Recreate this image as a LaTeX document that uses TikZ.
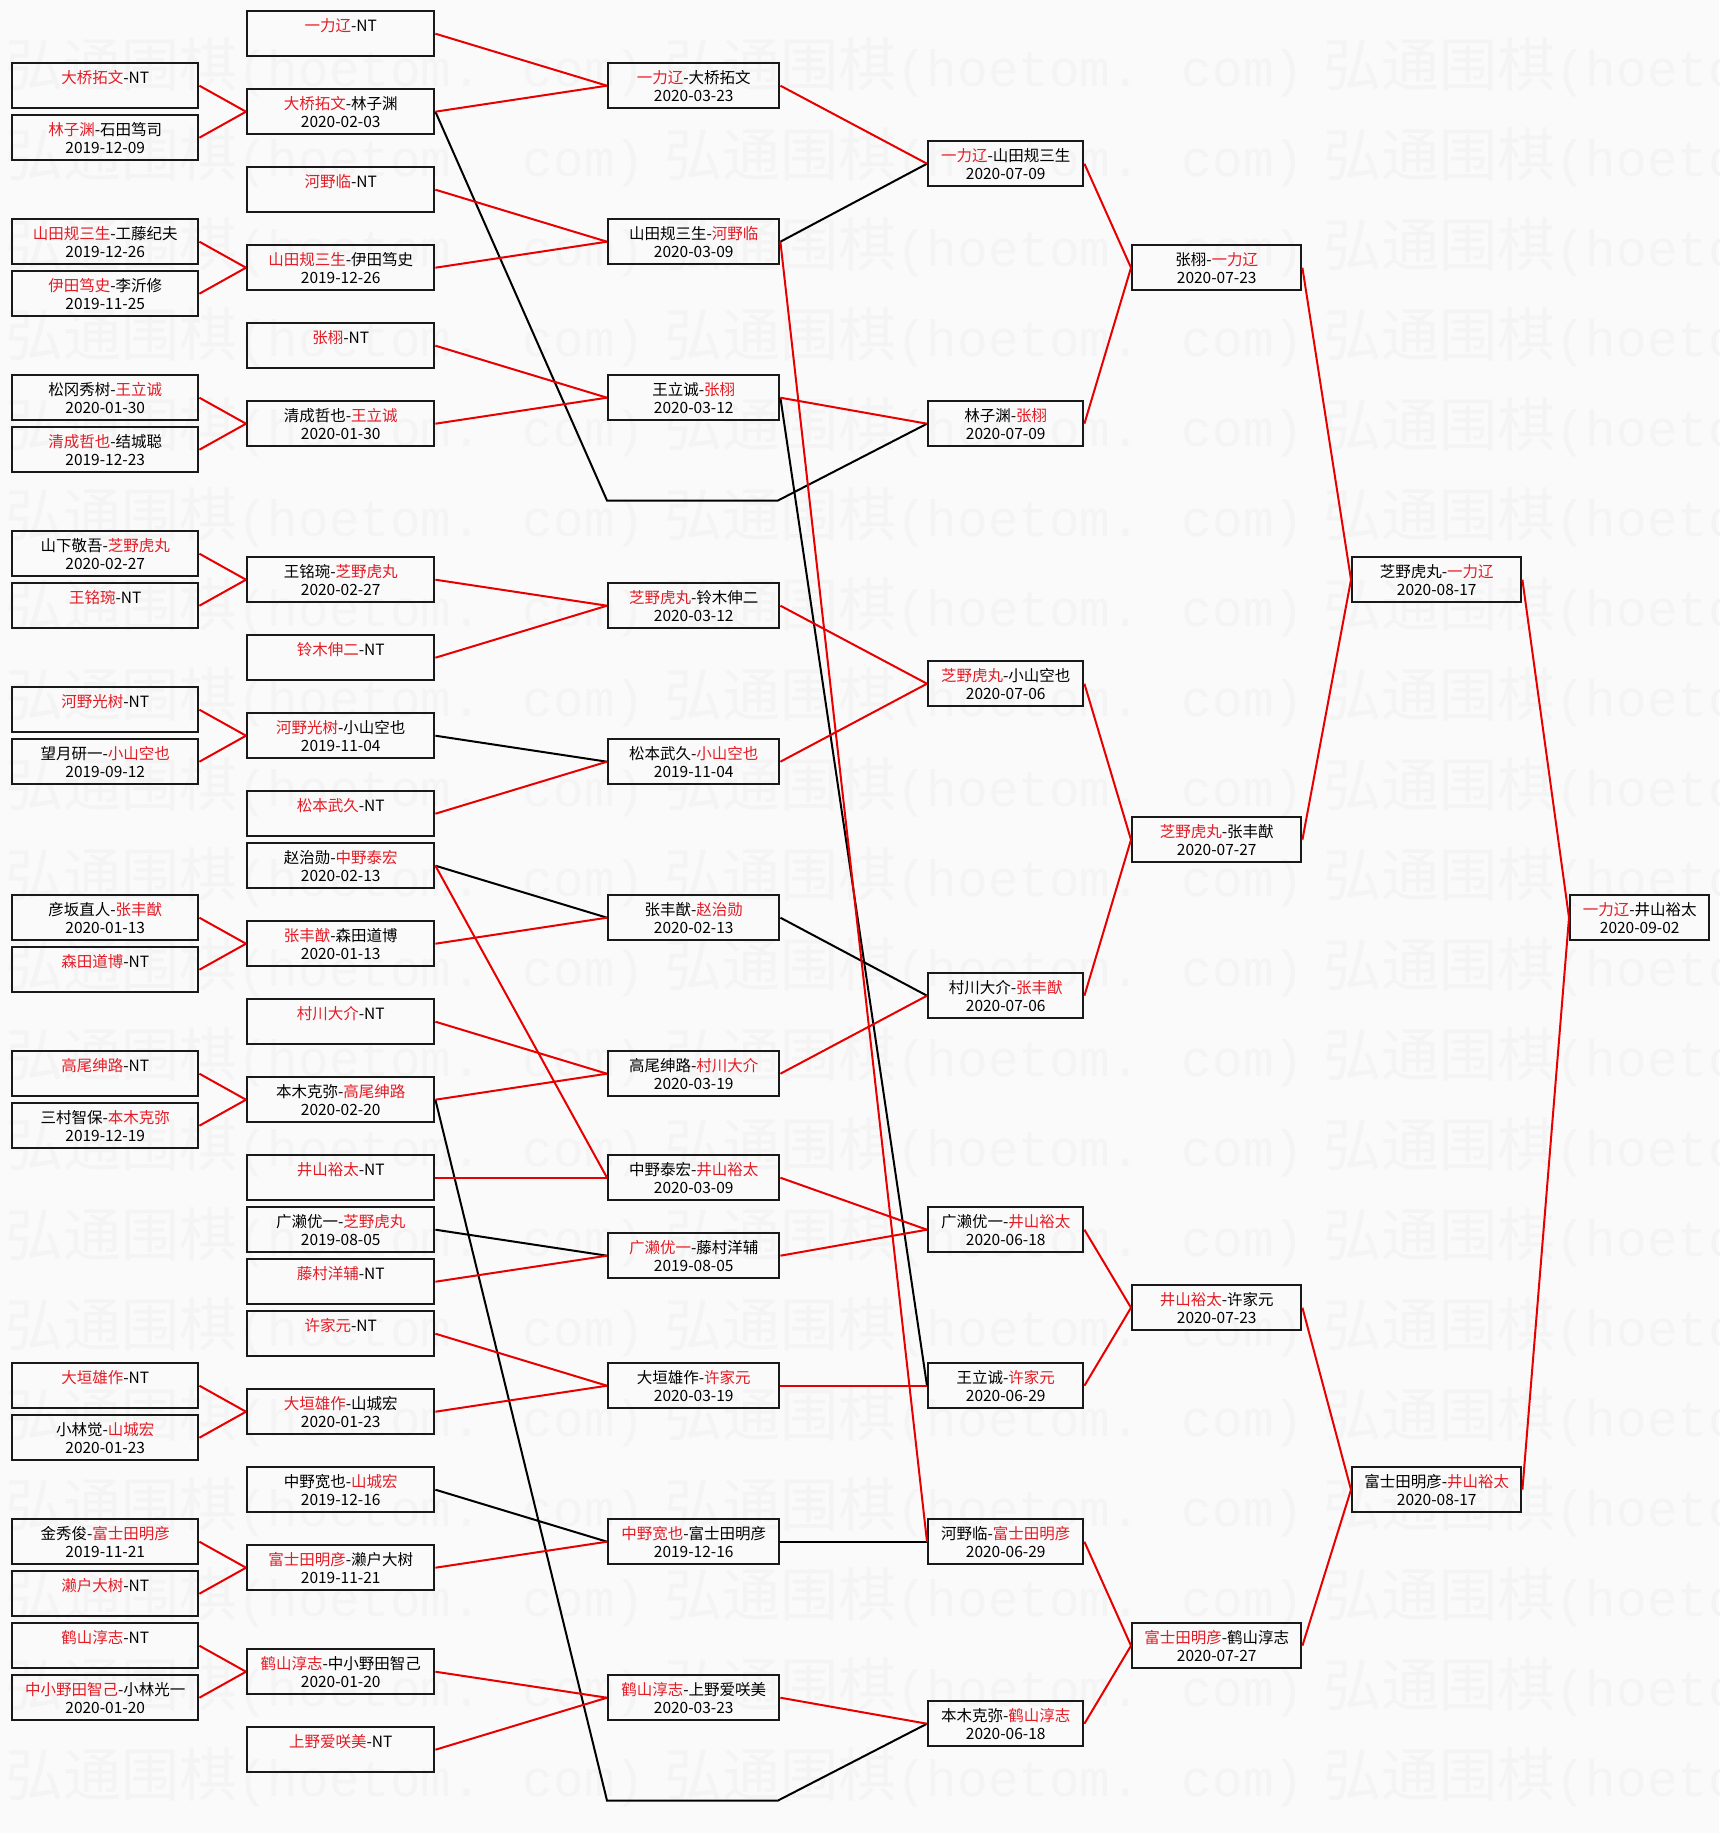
\documentclass[tikz,border=0pt]{standalone}
\usepackage{fontspec}
\setmainfont{Noto Sans CJK SC}
\newfontfamily\wmlatin{Liberation Mono}
\definecolor{namered}{RGB}{228,28,38}
\definecolor{linered}{RGB}{232,0,0}
\definecolor{paper}{RGB}{250,250,250}
\definecolor{wmgray}{RGB}{244,244,244}
\tikzset{match/.style={draw=black!90, line width=2.4pt, rectangle, anchor=north west, minimum height=45pt, inner sep=0pt, align=center, font=\fontsize{15.5}{18}\selectfont}}
\tikzset{colA/.style={match, minimum width=186pt}, colB/.style={match, minimum width=187pt}, colC/.style={match, minimum width=171pt}, colD/.style={match, minimum width=155pt}, colE/.style={match, minimum width=169pt}, colF/.style={match, minimum width=169pt}, colG/.style={match, minimum width=139pt}}
\tikzset{won/.style={draw=linered, line width=2pt}, lost/.style={draw=black, line width=2pt}}
\tikzset{wmark/.style={anchor=west, inner sep=0pt, text=wmgray, font=\fontsize{58}{58}\selectfont}}
\newcommand\rd[1]{\textcolor{namered}{#1}}
\newcommand\ry[1]{\the\numexpr10+26*#1\relax}
\newcommand\nt{\\\phantom{2020-00-00}}
\newcommand\wmtext{弘通围棋{\wmlatin\fontsize{51}{51}\selectfont(hoetom. com)}}

\begin{document}
\begin{tikzpicture}[x=1pt, y=-1pt]
    \useasboundingbox (0,0) rectangle (1719,1833);
    \fill[paper] (0,0) rectangle (1719,1833);
    % watermark
    \begin{scope}
        \clip (0,0) rectangle (1719,1833);
        \foreach \k in {0,...,19}
            \foreach \j in {0,1,2}
                \node[wmark] (wm-\k-\j) at (5+659*\j, 67+90*\k) {\wmtext};
    \end{scope}

    % first round
    \node[colA] (a2) at (11,\ry{2}) {\rd{大桥拓文}-NT\nt};
    \node[colA] (a4) at (11,\ry{4}) {\rd{林子渊}-石田笃司\\2019-12-09};
    \node[colA] (a8) at (11,\ry{8}) {\rd{山田规三生}-工藤纪夫\\2019-12-26};
    \node[colA] (a10) at (11,\ry{10}) {\rd{伊田笃史}-李沂修\\2019-11-25};
    \node[colA] (a14) at (11,\ry{14}) {松冈秀树-\rd{王立诚}\\2020-01-30};
    \node[colA] (a16) at (11,\ry{16}) {\rd{清成哲也}-结城聪\\2019-12-23};
    \node[colA] (a20) at (11,\ry{20}) {山下敬吾-\rd{芝野虎丸}\\2020-02-27};
    \node[colA] (a22) at (11,\ry{22}) {\rd{王铭琬}-NT\nt};
    \node[colA] (a26) at (11,\ry{26}) {\rd{河野光树}-NT\nt};
    \node[colA] (a28) at (11,\ry{28}) {望月研一-\rd{小山空也}\\2019-09-12};
    \node[colA] (a34) at (11,\ry{34}) {彦坂直人-\rd{张丰猷}\\2020-01-13};
    \node[colA] (a36) at (11,\ry{36}) {\rd{森田道博}-NT\nt};
    \node[colA] (a40) at (11,\ry{40}) {\rd{高尾绅路}-NT\nt};
    \node[colA] (a42) at (11,\ry{42}) {三村智保-\rd{本木克弥}\\2019-12-19};
    \node[colA] (a52) at (11,\ry{52}) {\rd{大垣雄作}-NT\nt};
    \node[colA] (a54) at (11,\ry{54}) {小林觉-\rd{山城宏}\\2020-01-23};
    \node[colA] (a58) at (11,\ry{58}) {金秀俊-\rd{富士田明彦}\\2019-11-21};
    \node[colA] (a60) at (11,\ry{60}) {\rd{濑户大树}-NT\nt};
    \node[colA] (a62) at (11,\ry{62}) {\rd{鹤山淳志}-NT\nt};
    \node[colA] (a64) at (11,\ry{64}) {\rd{中小野田智己}-小林光一\\2020-01-20};

    % second round
    \node[colB] (b0) at (246,\ry{0}) {\rd{一力辽}-NT\nt};
    \node[colB] (b3) at (246,\ry{3}) {\rd{大桥拓文}-林子渊\\2020-02-03};
    \node[colB] (b6) at (246,\ry{6}) {\rd{河野临}-NT\nt};
    \node[colB] (b9) at (246,\ry{9}) {\rd{山田规三生}-伊田笃史\\2019-12-26};
    \node[colB] (b12) at (246,\ry{12}) {\rd{张栩}-NT\nt};
    \node[colB] (b15) at (246,\ry{15}) {清成哲也-\rd{王立诚}\\2020-01-30};
    \node[colB] (b21) at (246,\ry{21}) {王铭琬-\rd{芝野虎丸}\\2020-02-27};
    \node[colB] (b24) at (246,\ry{24}) {\rd{铃木伸二}-NT\nt};
    \node[colB] (b27) at (246,\ry{27}) {\rd{河野光树}-小山空也\\2019-11-04};
    \node[colB] (b30) at (246,\ry{30}) {\rd{松本武久}-NT\nt};
    \node[colB] (b32) at (246,\ry{32}) {赵治勋-\rd{中野泰宏}\\2020-02-13};
    \node[colB] (b35) at (246,\ry{35}) {\rd{张丰猷}-森田道博\\2020-01-13};
    \node[colB] (b38) at (246,\ry{38}) {\rd{村川大介}-NT\nt};
    \node[colB] (b41) at (246,\ry{41}) {本木克弥-\rd{高尾绅路}\\2020-02-20};
    \node[colB] (b44) at (246,\ry{44}) {\rd{井山裕太}-NT\nt};
    \node[colB] (b46) at (246,\ry{46}) {广濑优一-\rd{芝野虎丸}\\2019-08-05};
    \node[colB] (b48) at (246,\ry{48}) {\rd{藤村洋辅}-NT\nt};
    \node[colB] (b50) at (246,\ry{50}) {\rd{许家元}-NT\nt};
    \node[colB] (b53) at (246,\ry{53}) {\rd{大垣雄作}-山城宏\\2020-01-23};
    \node[colB] (b56) at (246,\ry{56}) {中野宽也-\rd{山城宏}\\2019-12-16};
    \node[colB] (b59) at (246,\ry{59}) {\rd{富士田明彦}-濑户大树\\2019-11-21};
    \node[colB] (b63) at (246,\ry{63}) {\rd{鹤山淳志}-中小野田智己\\2020-01-20};
    \node[colB] (b66) at (246,\ry{66}) {\rd{上野爱咲美}-NT\nt};

    % third round
    \node[colC] (c2) at (607,\ry{2}) {\rd{一力辽}-大桥拓文\\2020-03-23};
    \node[colC] (c8) at (607,\ry{8}) {山田规三生-\rd{河野临}\\2020-03-09};
    \node[colC] (c14) at (607,\ry{14}) {王立诚-\rd{张栩}\\2020-03-12};
    \node[colC] (c22) at (607,\ry{22}) {\rd{芝野虎丸}-铃木伸二\\2020-03-12};
    \node[colC] (c28) at (607,\ry{28}) {松本武久-\rd{小山空也}\\2019-11-04};
    \node[colC] (c34) at (607,\ry{34}) {张丰猷-\rd{赵治勋}\\2020-02-13};
    \node[colC] (c40) at (607,\ry{40}) {高尾绅路-\rd{村川大介}\\2020-03-19};
    \node[colC] (c44) at (607,\ry{44}) {中野泰宏-\rd{井山裕太}\\2020-03-09};
    \node[colC] (c47) at (607,\ry{47}) {\rd{广濑优一}-藤村洋辅\\2019-08-05};
    \node[colC] (c52) at (607,\ry{52}) {大垣雄作-\rd{许家元}\\2020-03-19};
    \node[colC] (c58) at (607,\ry{58}) {\rd{中野宽也}-富士田明彦\\2019-12-16};
    \node[colC] (c64) at (607,\ry{64}) {\rd{鹤山淳志}-上野爱咲美\\2020-03-23};
    \coordinate (bye1a) at (607,500.5);
    \coordinate (bye1b) at (778,500.5);
    \coordinate (bye2a) at (607,1800.5);
    \coordinate (bye2b) at (778,1800.5);

    % fourth round
    \node[colD] (d5) at (927,\ry{5}) {\rd{一力辽}-山田规三生\\2020-07-09};
    \node[colD] (d15) at (927,\ry{15}) {林子渊-\rd{张栩}\\2020-07-09};
    \node[colD] (d25) at (927,\ry{25}) {\rd{芝野虎丸}-小山空也\\2020-07-06};
    \node[colD] (d37) at (927,\ry{37}) {村川大介-\rd{张丰猷}\\2020-07-06};
    \node[colD] (d46) at (927,\ry{46}) {广濑优一-\rd{井山裕太}\\2020-06-18};
    \node[colD] (d52) at (927,\ry{52}) {王立诚-\rd{许家元}\\2020-06-29};
    \node[colD] (d58) at (927,\ry{58}) {河野临-\rd{富士田明彦}\\2020-06-29};
    \node[colD] (d65) at (927,\ry{65}) {本木克弥-\rd{鹤山淳志}\\2020-06-18};

    % semifinals and final
    \node[colE] (e9) at (1131,\ry{9}) {张栩-\rd{一力辽}\\2020-07-23};
    \node[colE] (e31) at (1131,\ry{31}) {\rd{芝野虎丸}-张丰猷\\2020-07-27};
    \node[colE] (e49) at (1131,\ry{49}) {\rd{井山裕太}-许家元\\2020-07-23};
    \node[colE] (e62) at (1131,\ry{62}) {\rd{富士田明彦}-鹤山淳志\\2020-07-27};
    \node[colF] (f21) at (1351,\ry{21}) {芝野虎丸-\rd{一力辽}\\2020-08-17};
    \node[colF] (f56) at (1351,\ry{56}) {富士田明彦-\rd{井山裕太}\\2020-08-17};
    \node[colG] (g34) at (1569,\ry{34}) {\rd{一力辽}-井山裕太\\2020-09-02};

    % losers' paths
    \draw[lost] (b3.east) -- (bye1a) -- (bye1b) -- (d15.west);
    \draw[lost] (b41.east) -- (bye2a) -- (bye2b) -- (d65.west);
    \draw[lost] (b27.east) -- (c28.west);
    \draw[lost] (b32.east) -- (c34.west);
    \draw[lost] (b46.east) -- (c47.west);
    \draw[lost] (b56.east) -- (c58.west);
    \draw[lost] (c8.east) -- (d5.west);
    \draw[lost] (c14.east) -- (d52.west);
    \draw[lost] (c34.east) -- (d37.west);
    \draw[lost] (c58.east) -- (d58.west);

    % winners' paths
    \draw[won] (a2.east) -- (b3.west);
    \draw[won] (a4.east) -- (b3.west);
    \draw[won] (a8.east) -- (b9.west);
    \draw[won] (a10.east) -- (b9.west);
    \draw[won] (a14.east) -- (b15.west);
    \draw[won] (a16.east) -- (b15.west);
    \draw[won] (a20.east) -- (b21.west);
    \draw[won] (a22.east) -- (b21.west);
    \draw[won] (a26.east) -- (b27.west);
    \draw[won] (a28.east) -- (b27.west);
    \draw[won] (a34.east) -- (b35.west);
    \draw[won] (a36.east) -- (b35.west);
    \draw[won] (a40.east) -- (b41.west);
    \draw[won] (a42.east) -- (b41.west);
    \draw[won] (a52.east) -- (b53.west);
    \draw[won] (a54.east) -- (b53.west);
    \draw[won] (a58.east) -- (b59.west);
    \draw[won] (a60.east) -- (b59.west);
    \draw[won] (a62.east) -- (b63.west);
    \draw[won] (a64.east) -- (b63.west);
    \draw[won] (b0.east) -- (c2.west);
    \draw[won] (b3.east) -- (c2.west);
    \draw[won] (b6.east) -- (c8.west);
    \draw[won] (b9.east) -- (c8.west);
    \draw[won] (b12.east) -- (c14.west);
    \draw[won] (b15.east) -- (c14.west);
    \draw[won] (b21.east) -- (c22.west);
    \draw[won] (b24.east) -- (c22.west);
    \draw[won] (b30.east) -- (c28.west);
    \draw[won] (b35.east) -- (c34.west);
    \draw[won] (b32.east) -- (c44.west);
    \draw[won] (b38.east) -- (c40.west);
    \draw[won] (b41.east) -- (c40.west);
    \draw[won] (b44.east) -- (c44.west);
    \draw[won] (b48.east) -- (c47.west);
    \draw[won] (b50.east) -- (c52.west);
    \draw[won] (b53.east) -- (c52.west);
    \draw[won] (b59.east) -- (c58.west);
    \draw[won] (b63.east) -- (c64.west);
    \draw[won] (b66.east) -- (c64.west);
    \draw[won] (c2.east) -- (d5.west);
    \draw[won] (c8.east) -- (d58.west);
    \draw[won] (c14.east) -- (d15.west);
    \draw[won] (c22.east) -- (d25.west);
    \draw[won] (c28.east) -- (d25.west);
    \draw[won] (c40.east) -- (d37.west);
    \draw[won] (c44.east) -- (d46.west);
    \draw[won] (c47.east) -- (d46.west);
    \draw[won] (c52.east) -- (d52.west);
    \draw[won] (c64.east) -- (d65.west);
    \draw[won] (d5.east) -- (e9.west);
    \draw[won] (d15.east) -- (e9.west);
    \draw[won] (d25.east) -- (e31.west);
    \draw[won] (d37.east) -- (e31.west);
    \draw[won] (d46.east) -- (e49.west);
    \draw[won] (d52.east) -- (e49.west);
    \draw[won] (d58.east) -- (e62.west);
    \draw[won] (d65.east) -- (e62.west);
    \draw[won] (e9.east) -- (f21.west);
    \draw[won] (e31.east) -- (f21.west);
    \draw[won] (e49.east) -- (f56.west);
    \draw[won] (e62.east) -- (f56.west);
    \draw[won] (f21.east) -- (g34.west);
    \draw[won] (f56.east) -- (g34.west);
\end{tikzpicture}
\end{document}
